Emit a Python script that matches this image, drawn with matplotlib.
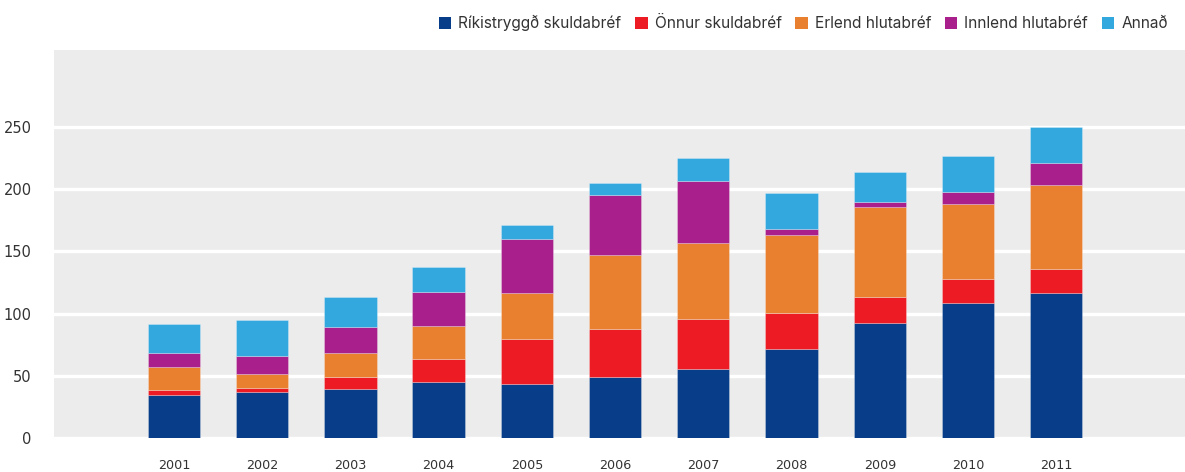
import numpy as np
import matplotlib
matplotlib.use('Agg')
import matplotlib.pyplot as plt
from matplotlib.patches import Patch

plt.rcParams['font.family'] = ['DejaVu Sans']

years = ['2001', '2002', '2003', '2004', '2005', '2006', '2007', '2008', '2009', '2010', '2011']
rikistryggd = [34.3, 37.2, 39.1, 44.7, 43.7, 48.8, 55.2, 71.3, 92.7, 108.8, 116.3]
onnur = [4.5, 3.0, 10.2, 19.1, 36.2, 39.1, 40.5, 29.2, 20.9, 18.8, 19.8]
erlend = [18.3, 11.2, 19.3, 26.5, 36.7, 58.9, 61.3, 62.9, 72.3, 60.5, 67.0]
innlend = [11.2, 14.8, 20.4, 27.1, 43.1, 48.8, 49.9, 4.9, 4.1, 9.4, 17.7]
annad = [23.6, 28.7, 24.3, 20.1, 11.3, 9.4, 17.9, 28.4, 23.6, 29.2, 29.4]

series = [rikistryggd, onnur, erlend, innlend, annad]
labels = ['Ríkistryggð skuldabréf', 'Önnur skuldabréf', 'Erlend hlutabréf',
          'Innlend hlutabréf', 'Annað']
colors = ['#083d8a', '#ed1c24', '#e8802f', '#a91f8c', '#33a8df']
text_color = '#333333'

fig = plt.figure(figsize=(11.85, 4.72), dpi=100)
ax = fig.add_axes([54 / 1185, 34 / 472, 1 - 54 / 1185, (438 - 50) / 472])
ax.set_facecolor('#ececec')

x = np.arange(len(years))
bottom = np.zeros(len(years))
for vals, col in zip(series, colors):
    ax.bar(x, vals, 0.593, bottom=bottom, color=col, edgecolor=(1, 1, 1, 0.3),
           linewidth=0.6, zorder=3)
    bottom += np.array(vals)

ax.set_xlim(-1.36, 11.46)
ax.set_ylim(0, 312)
ax.set_yticks(range(0, 300, 50))
ax.set_xticks(x)
ax.set_xticklabels(years)
ax.grid(axis='y', color='white', linewidth=2.4, zorder=1)
ax.grid(axis='x', visible=False)
for s in ax.spines.values():
    s.set_visible(False)
ax.tick_params(axis='y', length=0, pad=16, labelsize=10.5, labelcolor=text_color)
ax.tick_params(axis='x', length=0, pad=15, labelsize=9.2, labelcolor=text_color)

handles = [Patch(facecolor=c, edgecolor='none') for c in colors]
fig.legend(handles, labels, loc='center left', bbox_to_anchor=(439 / 1185, 1 - 23 / 472),
           ncol=5, frameon=False, prop={'family': ['Inter', 'DejaVu Sans'], 'size': 11.1},
           handlelength=0.8, handleheight=0.8, handletextpad=0.45, columnspacing=0.9,
           labelcolor=text_color, borderaxespad=0, borderpad=0)

fig.savefig('out.png', dpi=100)
